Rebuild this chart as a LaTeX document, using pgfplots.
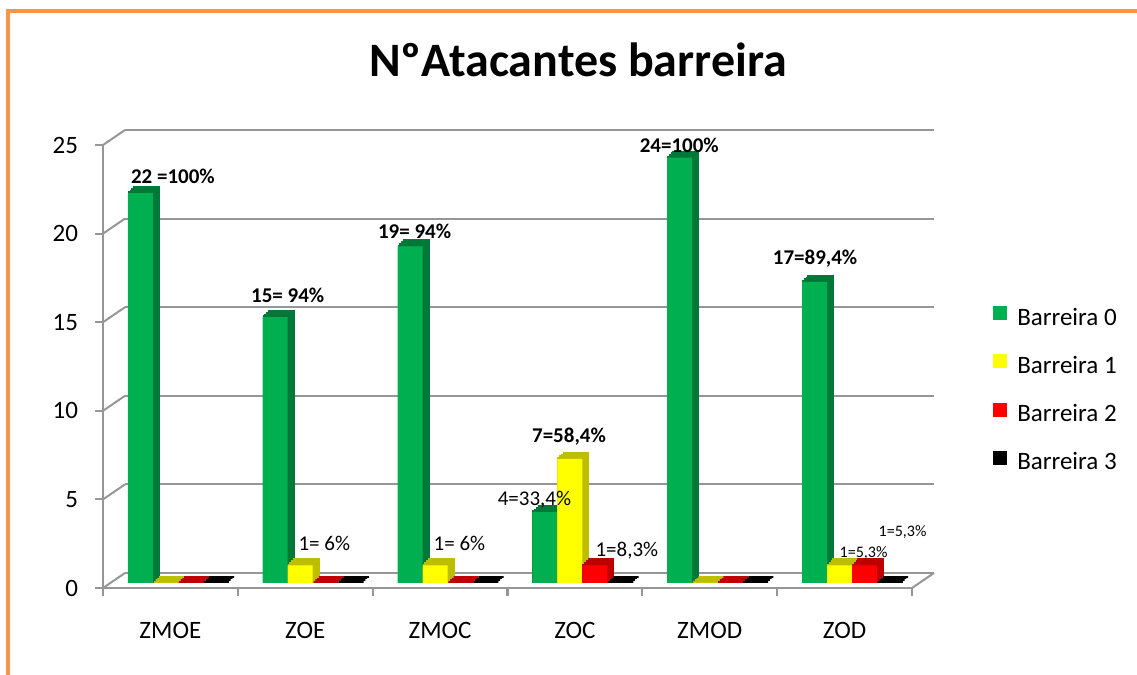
\documentclass[border=0pt]{standalone}
\usepackage{pgfplots}
\pgfplotsset{compat=1.18}
\usepackage{pgfplotstable}
\usepackage{fontspec}
\setmainfont{Carlito}

\definecolor{frameorange}{RGB}{247,150,70}
\definecolor{gridgray}{RGB}{150,150,150}
\definecolor{b0}{RGB}{0,176,80}
\definecolor{b0side}{RGB}{0,120,55}
\definecolor{b1}{RGB}{255,255,0}
\definecolor{b1side}{RGB}{190,190,0}
\definecolor{b2}{RGB}{255,0,0}
\definecolor{b2side}{RGB}{190,0,0}
\definecolor{b3}{RGB}{0,0,0}

% numero de atacantes por barreira, zona a zona
\pgfplotstableread{
x b0 b1 b2 b3
0 22 0 0 0
1 15 1 0 0
2 19 1 0 0
3 4  7 1 0
4 24 0 0 0
5 17 1 1 0
}\barreiras

\pgfplotsset{
  frente/.style={ybar, bar width=12.5pt, bar shift=#1, yshift=2.5pt, draw=none},
  % copias em escada para simular a profundidade da barra
  lado/.style 2 args={ybar, bar width=12.5pt, bar shift=#1,
    xshift={(#2-0.5)*0.875pt}, yshift={2.5pt+(#2-0.5)*0.875pt},
    line width=0.875pt, line join=miter, forget plot},
}

\begin{document}
\begin{tikzpicture}[x=1pt,y=1pt]
\useasboundingbox (0,0) rectangle (568.5,337.5);
\draw[frameorange, line width=1.7pt] (580,332) -- (4,332) -- (4,-10);
\node[font=\bfseries\fontsize{24}{28}\selectfont] at (289,307.5) {NºAtacantes barreira};

\begin{axis}[
  at={(51.5pt,43.5pt)}, anchor=south west, scale only axis,
  width=404.5pt, height=221.5pt,
  xmin=-0.5, xmax=5.5, ymin=0, ymax=25,
  clip=false,
  axis lines*=left,
  axis line style={-, gridgray, line width=1.1pt},
  tick align=outside,
  major tick length=4pt,
  tick style={gridgray, line width=1.1pt},
  ytick={0,5,...,25},
  xtick={-0.5,0.5,...,5.5},
  x tick label as interval,
  xticklabels={ZMOE,ZOE,ZMOC,ZOC,ZMOD,ZOD},
  tick label style={font=\fontsize{12.5}{15}\selectfont},
  /pgf/number format/assume math mode=true,
  yticklabel style={xshift=-5pt},
  xticklabel style={yshift=-9.5pt},
  ymajorgrids,
  major grid style={gridgray, line width=1pt, xshift=11pt, yshift=7.5pt},
  legend cell align=left,
  legend style={at={(1.10,0.446)}, anchor=west, draw=none, fill=none,
    inner sep=0pt, row sep=10pt,
    nodes={inner xsep=5pt},
    font=\fontsize{12.5}{15}\selectfont},
]
% paredes laterais
\pgfplotsinvokeforeach{0,5,10,15,20,25}{
  \draw[gridgray, line width=1pt] (axis cs:-0.5,#1) -- ++(11pt,7.5pt);
}
\draw[gridgray, line width=1pt] (axis cs:5.5,0) -- ++(11pt,7.5pt);

\pgfplotsinvokeforeach{1,2,3,4}{
  \addplot[lado={-15pt}{#1}, fill=b0side, draw=b0side] table[x=x,y=b0]{\barreiras};
}
\addplot[frente=-15pt, fill=b0,
  legend image code/.code={\fill[b0] (0pt,-3.5pt) rectangle (7pt,3.5pt);}]
  table[x=x,y=b0]{\barreiras};
\addlegendentry{Barreira 0}

\pgfplotsinvokeforeach{1,2,3,4}{
  \addplot[lado={-2.5pt}{#1}, fill=b1side, draw=b1side] table[x=x,y=b1]{\barreiras};
}
\addplot[frente=-2.5pt, fill=b1,
  legend image code/.code={\fill[b1] (0pt,-3.5pt) rectangle (7pt,3.5pt);}]
  table[x=x,y=b1]{\barreiras};
\addlegendentry{Barreira 1}

\pgfplotsinvokeforeach{1,2,3,4}{
  \addplot[lado={10pt}{#1}, fill=b2side, draw=b2side] table[x=x,y=b2]{\barreiras};
}
\addplot[frente=10pt, fill=b2,
  legend image code/.code={\fill[b2] (0pt,-3.5pt) rectangle (7pt,3.5pt);}]
  table[x=x,y=b2]{\barreiras};
\addlegendentry{Barreira 2}

\pgfplotsinvokeforeach{1,2,3,4}{
  \addplot[lado={22.5pt}{#1}, fill=b3, draw=b3] table[x=x,y=b3]{\barreiras};
}
\addplot[frente=22.5pt, fill=b3,
  legend image code/.code={\fill[b3] (0pt,-3.5pt) rectangle (7pt,3.5pt);}]
  table[x=x,y=b3]{\barreiras};
\addlegendentry{Barreira 3}

% rotulos
\addplot[forget plot, draw=none, mark=none, nodes near coords,
  point meta=explicit symbolic,
  nodes near coords style={anchor=center, inner sep=0pt,
    font=\bfseries\fontsize{10.5}{12}\selectfont}]
  coordinates {
    (0.0185,23.25) [22 =100\%]
    (0.870,16.53) [15= 94\%]
    (1.811,20.15) [19= 94\%]
    (2.956,8.52) [7=58,4\%]
    (3.774,25.0) [24=100\%]
    (4.781,18.57) [17=89,4\%]
  };
\addplot[forget plot, draw=none, mark=none, nodes near coords,
  point meta=explicit symbolic,
  nodes near coords style={anchor=center, inner sep=0pt,
    font=\fontsize{10.5}{12}\selectfont}]
  coordinates {
    (1.141,2.54) [1= 6\%]
    (2.144,2.54) [1= 6\%]
    (2.700,4.97) [4=33,4\%]
    (3.385,2.09) [1=8,3\%]
  };
\addplot[forget plot, draw=none, mark=none, nodes near coords,
  point meta=explicit symbolic,
  nodes near coords style={anchor=center, inner sep=0pt,
    font=\fontsize{8}{10}\selectfont}]
  coordinates {
    (5.141,1.98) [1=5,3\%]
    (5.430,3.16) [1=5,3\%]
  };
\end{axis}
\end{tikzpicture}
\end{document}
